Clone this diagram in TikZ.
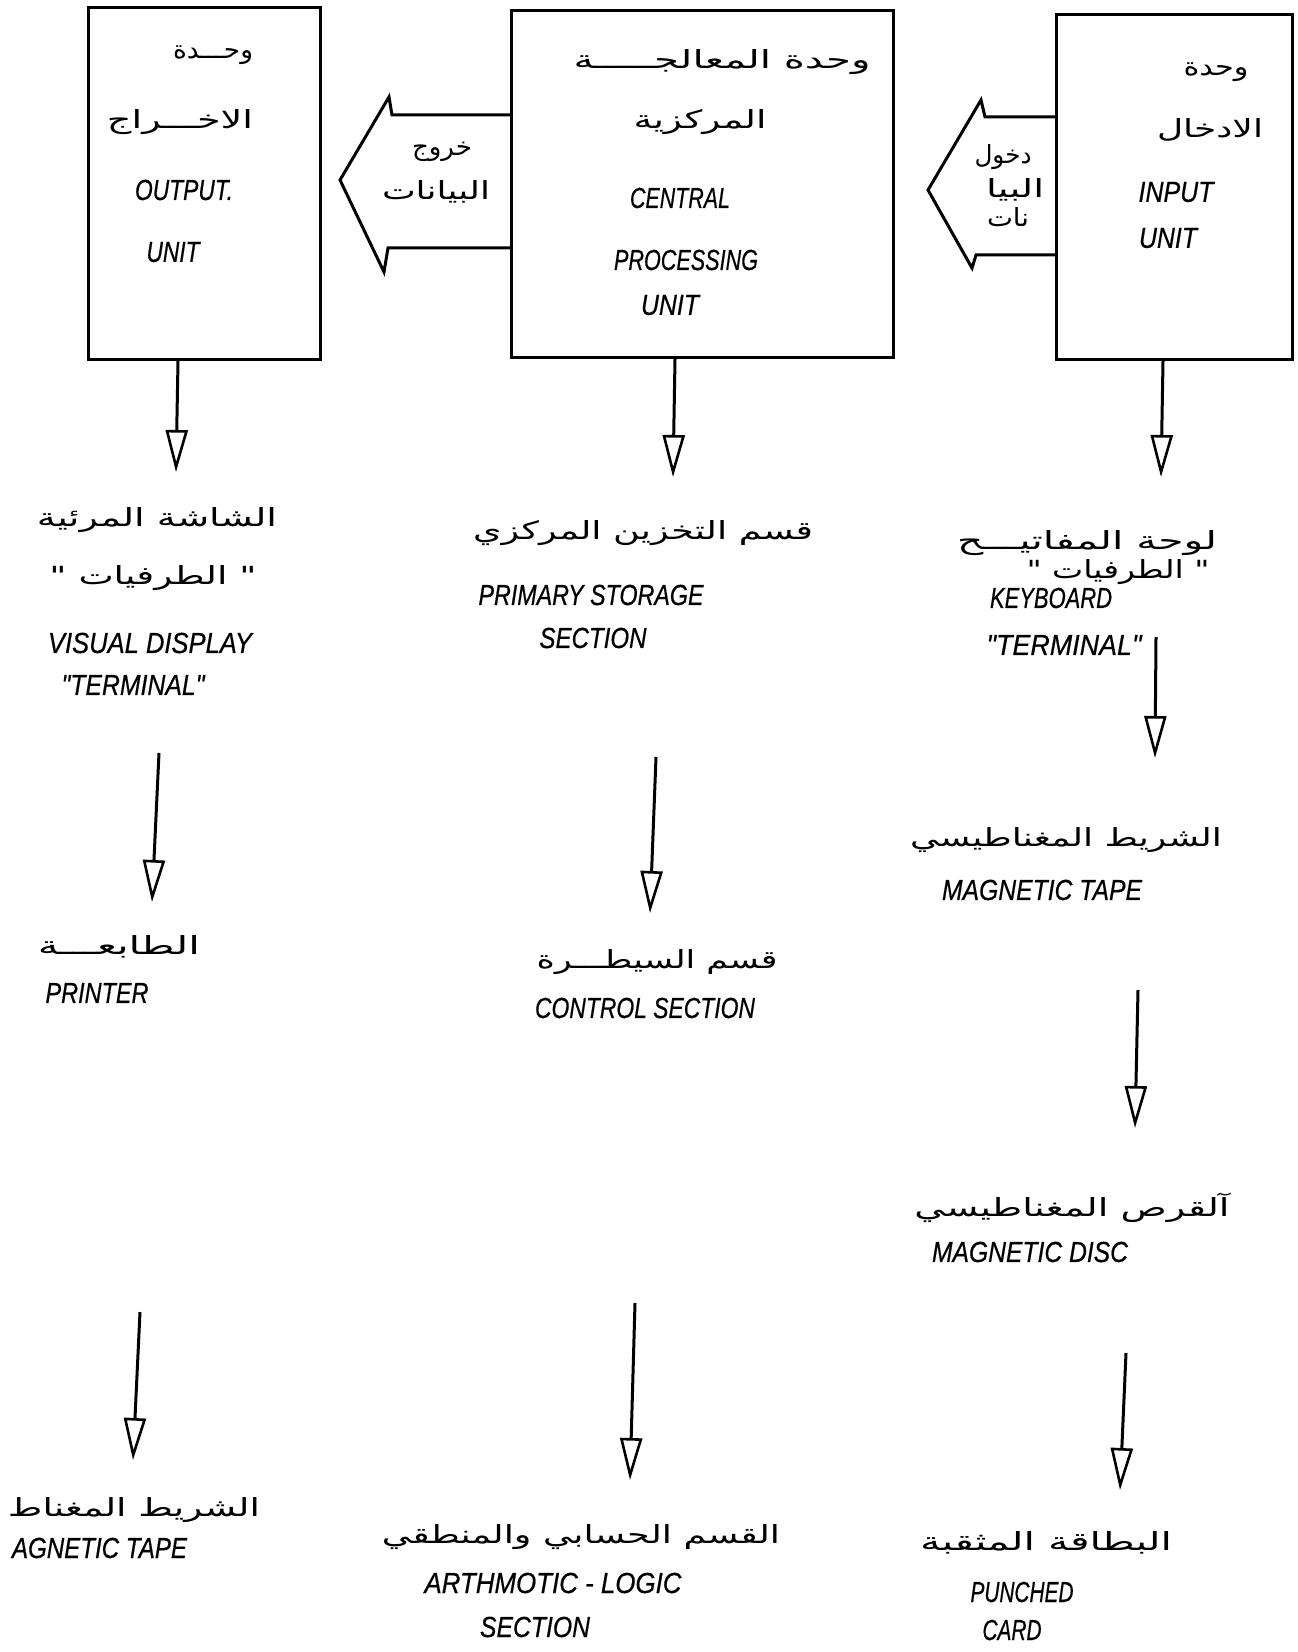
\documentclass[tikz,border=0pt]{standalone}
\usepackage{fontspec}
\usepackage{graphicx}
\usetikzlibrary{arrows.meta}
\TeXXeTstate=1
\newfontfamily\arabicfont[Script=Arabic]{DejaVu Sans}
\newfontfamily\engfont{Liberation Sans}[FakeBold=0.6]
\newdimen\pxu \pxu=0.5pt
\newcommand{\artx}[2]{\resizebox{#1\pxu}{\height}{\arabicfont\fontsize{12.5}{14}\selectfont #2}}
\newcommand{\entx}[2]{\resizebox{#1\pxu}{\height}{\engfont\itshape\fontsize{14.5}{16}\selectfont #2}}
\begin{document}
\begin{tikzpicture}[x=0.5pt,y=-0.5pt,
  lbl/.style={inner sep=0pt, outer sep=0pt},
  unitbox/.style={draw, line width=1.5pt, inner sep=0pt, outer sep=0pt},
  flow/.style={line width=1.5pt, -{Triangle[open, length=21pt, width=11pt, line width=1.3pt]}},
  blockarrow/.style={draw, line width=1.5pt, fill=white, line join=miter}]
\useasboundingbox (0,0) rectangle (1297,1652);
\fill[white] (0,0) rectangle (1297,1652);

% block arrows
\draw[blockarrow] (511,115) -- (392,115) -- (389,97) -- (340,180) -- (384,272) -- (388,248) -- (511,248);
\draw[blockarrow] (1056,117) -- (985,117) -- (981,100) -- (928,190) -- (972,268) -- (976,255) -- (1056,255);

% unit boxes
\node[unitbox, minimum width=116pt, minimum height=176pt] (outu) at (204,184) {};
\node[unitbox, minimum width=191pt, minimum height=173.5pt] (cpu) at (702,184.5) {};
\node[unitbox, minimum width=118pt, minimum height=172.5pt] (inu) at (1174,187.5) {};

% output box texts
\node[lbl] (o1) at (213,55) {\artx{80}{\beginR وحـــدة\endR}};
\node[lbl] (o2) at (180,122) {\artx{146}{\beginR الاخـــراج\endR}};
\node[lbl] (o3) at (184,190) {\entx{98}{OUTPUT.}};
\node[lbl] (o4) at (173,252) {\entx{53}{UNIT}};

% cpu texts
\node[lbl] (p1) at (722,62) {\artx{297}{\beginR وحدة المعالجـــــة\endR}};
\node[lbl] (p2) at (700,122) {\artx{133}{\beginR المركزية\endR}};
\node[lbl] (p3) at (680,198) {\entx{100}{CENTRAL}};
\node[lbl] (p4) at (686,260) {\entx{144}{PROCESSING}};
\node[lbl] (p5) at (670,305) {\entx{58}{UNIT}};

% input box texts
\node[lbl] (i1) at (1216,72) {\artx{65}{\beginR وحدة\endR}};
\node[lbl] (i2) at (1210,130) {\artx{106}{\beginR الادخال\endR}};
\node[lbl] (i3) at (1176,192) {\entx{75}{INPUT}};
\node[lbl] (i4) at (1168,238) {\entx{58}{UNIT}};

% block arrow texts
\node[lbl] (oa1) at (442,152) {\artx{60}{\beginR خروج\endR}};
\node[lbl] (oa2) at (436,192) {\artx{108}{\beginR البيانات\endR}};
\node[lbl] (ia1) at (1003,157) {\artx{57}{\beginR دخول\endR}};
\node[lbl] (ia2) at (1015,190) {\artx{58}{\beginR البيا\endR}};
\node[lbl] (ia3) at (1008,217) {\artx{42}{\beginR نات\endR}};

% column 1
\node[lbl] (c1a) at (157,520) {\artx{240}{\beginR الشاشة المرئية\endR}};
\node[lbl] (c1b) at (153,578) {\artx{207}{\beginR " الطرفيات "\endR}};
\node[lbl] (c1c) at (150,643) {\entx{204}{VISUAL DISPLAY}};
\node[lbl] (c1d) at (133,685) {\entx{143}{"TERMINAL"}};
\node[lbl] (c1e) at (119,947) {\artx{162}{\beginR الطابعـــة\endR}};
\node[lbl] (c1f) at (97,993) {\entx{103}{PRINTER}};
\node[lbl, anchor=east] (c1g) at (260,1510) {\artx{252}{\beginR الشريط المغناط\endR}};
\node[lbl, anchor=west] (c1h) at (12,1548) {\entx{175}{AGNETIC TAPE}};

% column 2
\node[lbl] (c2a) at (643,533) {\artx{340}{\beginR قسم التخزين المركزي\endR}};
\node[lbl] (c2b) at (591,595) {\entx{225}{PRIMARY STORAGE}};
\node[lbl] (c2c) at (593,638) {\entx{107}{SECTION}};
\node[lbl] (c2d) at (657,962) {\artx{241}{\beginR قسم السيطـــرة\endR}};
\node[lbl] (c2e) at (645,1008) {\entx{220}{CONTROL SECTION}};
\node[lbl] (c2f) at (581,1537) {\artx{398}{\beginR القسم الحسابي والمنطقي\endR}};
\node[lbl] (c2g) at (553,1583) {\entx{257}{ARTHMOTIC - LOGIC}};
\node[lbl] (c2h) at (535,1627) {\entx{110}{SECTION}};

% column 3
\node[lbl] (c3a) at (1087,543) {\artx{260}{\beginR لوحة المفاتيـــح\endR}};
\node[lbl] (c3b) at (1118,572) {\artx{183}{\beginR " الطرفيات "\endR}};
\node[lbl] (c3c) at (1051,598) {\entx{122}{KEYBOARD}};
\node[lbl] (c3d) at (1064,645) {\entx{155}{"TERMINAL"}};
\node[lbl] (c3e) at (1066,840) {\artx{312}{\beginR الشريط المغناطيسي\endR}};
\node[lbl] (c3f) at (1042,890) {\entx{200}{MAGNETIC TAPE}};
\node[lbl] (c3g) at (1072,1208) {\artx{315}{\beginR آلقرص المغناطيسي\endR}};
\node[lbl] (c3h) at (1030,1252) {\entx{196}{MAGNETIC DISC}};
\node[lbl] (c3i) at (1046,1543) {\artx{252}{\beginR البطاقة المثقبة\endR}};
\node[lbl] (c3j) at (1022,1592) {\entx{103}{PUNCHED}};
\node[lbl] (c3k) at (1012,1630) {\entx{59}{CARD}};

% connector end points
\coordinate (a1s) at (178,361);  \coordinate (a1e) at (176,472);
\coordinate (a2s) at (159,753);  \coordinate (a2e) at (152,902);
\coordinate (a3s) at (140,1312); \coordinate (a3e) at (133,1460);
\coordinate (b1s) at (675,359);  \coordinate (b1e) at (673,477);
\coordinate (b2s) at (656,757);  \coordinate (b2e) at (650,913);
\coordinate (b3s) at (635,1303); \coordinate (b3e) at (630,1480);
\coordinate (d1s) at (1163,361); \coordinate (d1e) at (1161,477);
\coordinate (d2s) at (1156,637); \coordinate (d2e) at (1155,758);
\coordinate (d3s) at (1138,990); \coordinate (d3e) at (1135,1128);
\coordinate (d4s) at (1126,1353); \coordinate (d4e) at (1120,1490);

\draw[flow] (a1s) -- (a1e);
\draw[flow] (a2s) -- (a2e);
\draw[flow] (a3s) -- (a3e);
\draw[flow] (b1s) -- (b1e);
\draw[flow] (b2s) -- (b2e);
\draw[flow] (b3s) -- (b3e);
\draw[flow] (d1s) -- (d1e);
\draw[flow] (d2s) -- (d2e);
\draw[flow] (d3s) -- (d3e);
\draw[flow] (d4s) -- (d4e);
\end{tikzpicture}
\end{document}
